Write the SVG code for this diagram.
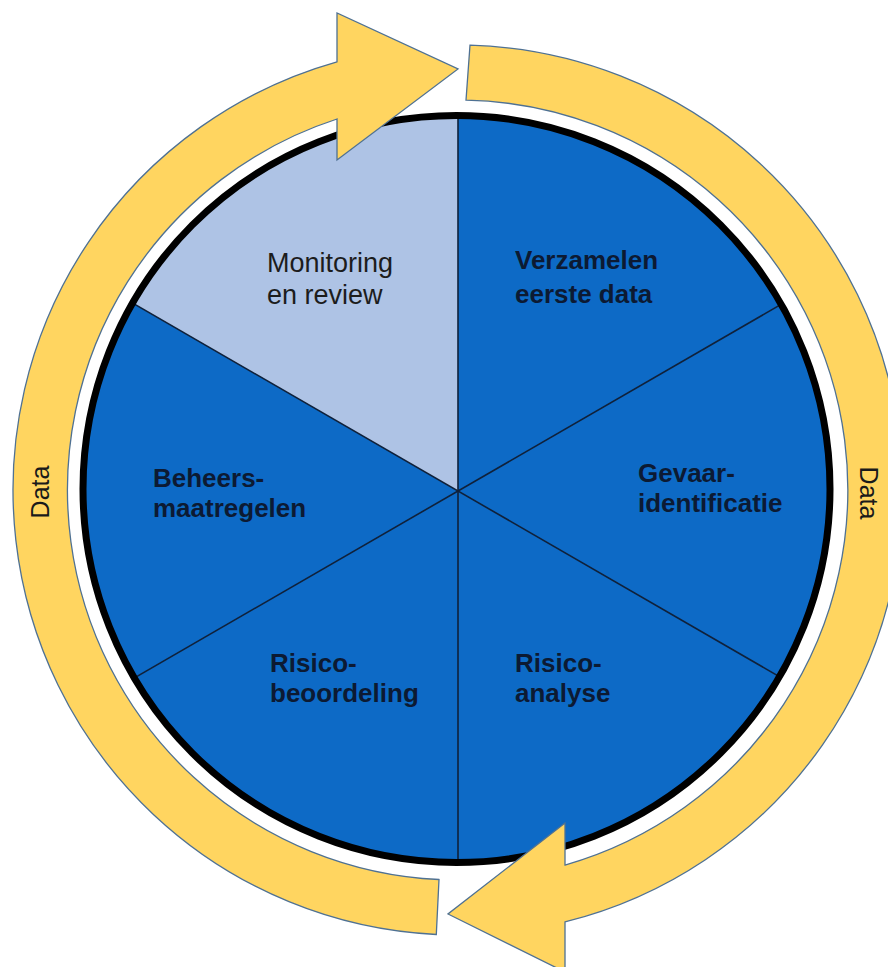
<svg xmlns="http://www.w3.org/2000/svg" width="888" height="967" viewBox="0 0 888 967">
  <defs>
    <style>
      .arrow { fill: #FFD560; stroke: #4F7193; stroke-width: 1.3; stroke-linejoin: miter; }
      .bold { font-family: "Liberation Sans", Arial, sans-serif; font-weight: bold; font-size: 26px; fill: #0c1a33; }
      .reg { font-family: "Liberation Sans", Arial, sans-serif; font-size: 27px; fill: #1c1c1c; }
      .data { font-family: "Liberation Sans", Arial, sans-serif; font-size: 25px; fill: #1a1a1a; text-anchor: middle; }
      .sep { stroke: #10213a; stroke-width: 1.6; fill: none; }
    </style>
    <clipPath id="pie">
      <circle cx="456.5" cy="489" r="373.5"/>
    </clipPath>
  </defs>
  <rect width="888" height="967" fill="#ffffff"/>

  <!-- pie base -->
  <g id="pie-base">
    <circle cx="456.5" cy="489" r="373.5" fill="#0D6AC6"/>
  </g>

  <g id="node-monitoring">
    <polygon points="458,491 458,60 60,60 60,261" fill="#AEC3E5" clip-path="url(#pie)"/>
    <text class="reg" x="267" y="272">Monitoring</text>
    <text class="reg" x="267" y="304">en review</text>
  </g>

  <g id="node-verzamelen">
    <text class="bold" x="515" y="269">Verzamelen</text>
    <text class="bold" x="515" y="303">eerste data</text>
  </g>

  <g id="node-gevaar">
    <text class="bold" x="638" y="482">Gevaar-</text>
    <text class="bold" x="638" y="512">identificatie</text>
  </g>

  <g id="node-risicoanalyse">
    <text class="bold" x="515" y="672">Risico-</text>
    <text class="bold" x="515" y="702">analyse</text>
  </g>

  <g id="node-risicobeoordeling">
    <text class="bold" x="270" y="672">Risico-</text>
    <text class="bold" x="270" y="702">beoordeling</text>
  </g>

  <g id="node-beheers">
    <text class="bold" x="153" y="487">Beheers-</text>
    <text class="bold" x="153" y="517">maatregelen</text>
  </g>

  <g id="pie-lines" clip-path="url(#pie)">
    <line class="sep" x1="458" y1="60" x2="458" y2="920"/>
    <line class="sep" x1="838" y1="271.5" x2="78" y2="710.5"/>
    <line class="sep" x1="78" y1="271.5" x2="838" y2="710.5"/>
  </g>

  <g id="pie-outline">
    <circle cx="456.5" cy="489" r="373.5" fill="none" stroke="#000000" stroke-width="7"/>
  </g>

  <!-- connectors: circular Data arrows -->
  <g id="connectors">
    <path class="arrow" d="M 436.3,934.5 A 445 445 0 0 1 337,61.8 L 337,13 L 458,69 L 337,160 L 337,119 A 390 390 0 0 0 439,879.5 Z"/>
    <path class="arrow" d="M 470,45.2 A 445 445 0 0 1 565,921.9 L 565,972 L 448,914 L 565,823 L 565,865 A 390 390 0 0 0 466,100.1 Z"/>
    <text class="data" transform="translate(49,492) rotate(-90)">Data</text>
    <text class="data" transform="translate(860,493) rotate(90)">Data</text>
  </g>
</svg>
